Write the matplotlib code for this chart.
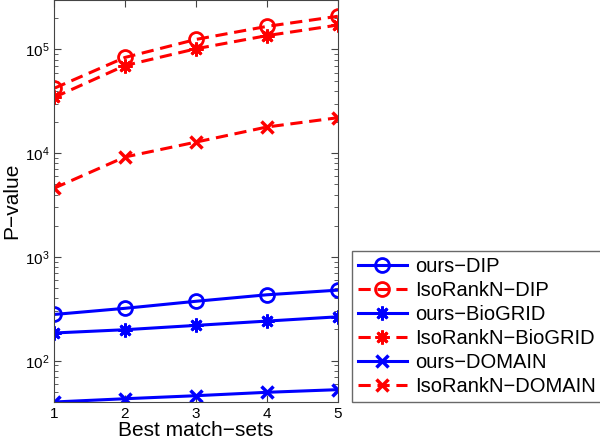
import matplotlib
matplotlib.use("Agg")
import matplotlib.pyplot as plt
from matplotlib.ticker import LogLocator, NullFormatter

plt.rcParams['font.family'] = ['Liberation Sans', 'DejaVu Sans']
plt.rcParams['mathtext.fontset'] = 'custom'
plt.rcParams['mathtext.rm'] = 'Liberation Sans'

match_sets = [1, 2, 3, 4, 5]

ours_dip = [279, 320, 374, 432, 479]
iso_dip = [42200, 83800, 125000, 167000, 209000]
ours_biogrid = [185, 199, 219, 241, 265]
iso_biogrid = [34500, 70000, 101600, 136000, 172000]
ours_domain = [40, 43, 46, 49.6, 52.6]
iso_domain = [4600, 9200, 12800, 17900, 22000]

fig = plt.figure(figsize=(6, 4.44), dpi=100)
ax = fig.add_axes([0.09, 0.0946, 0.473, 0.9054])

lw = 2.2
ms = 10
dash = (4, 2.2)
star = (8, 2, 0)  # matlab-style asterisk
ax.plot(match_sets, ours_dip, '-o', color='blue', lw=lw, ms=ms, mfc='none', mew=2, label='ours−DIP')
ax.plot(match_sets, iso_dip, '--o', color='red', lw=lw, ms=ms, mfc='none', mew=2, dashes=dash, label='IsoRankN−DIP')
ax.plot(match_sets, ours_biogrid, '-', marker=star, color='blue', lw=lw, ms=ms, mew=2, label='ours−BioGRID')
ax.plot(match_sets, iso_biogrid, '--', marker=star, color='red', lw=lw, ms=ms, mew=2, dashes=dash, label='IsoRankN−BioGRID')
ax.plot(match_sets, ours_domain, '-x', color='blue', lw=lw, ms=ms - 2, mew=2.5, label='ours−DOMAIN')
ax.plot(match_sets, iso_domain, '--x', color='red', lw=lw, ms=ms - 2, mew=2.5, dashes=dash, label='IsoRankN−DOMAIN')

ax.set_yscale('log')
ax.set_xlim(1, 5)
ax.set_ylim(40, 3e5)
ax.set_xticks(match_sets)
ax.yaxis.set_major_locator(LogLocator(base=10, numticks=10))
ax.yaxis.set_minor_locator(LogLocator(base=10, subs=range(2, 10), numticks=20))
ax.yaxis.set_minor_formatter(NullFormatter())
ax.tick_params(which='both', direction='in', top=True, right=True, labelsize=11, color='#444444')
ax.tick_params(which='major', length=5)
ax.tick_params(which='minor', length=3)
for s in ax.spines.values():
    s.set_color('#444444')

ax.set_xlabel('Best match−sets', fontsize=15, labelpad=0)
ax.set_ylabel('P−value', fontsize=15, labelpad=2)

leg = fig.legend(loc='lower left', bbox_to_anchor=(0.587, 0.0946), fontsize=14.5,
                 fancybox=False, edgecolor='#444444', borderaxespad=0,
                 handlelength=2.4, labelspacing=0.25, borderpad=0.3, handletextpad=0.4)
leg.get_frame().set_linewidth(1)

fig.savefig('out.png', dpi=100)
